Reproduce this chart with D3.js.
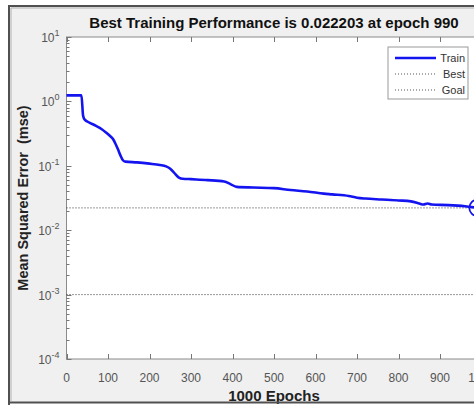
<!DOCTYPE html>
<html>
<head>
<meta charset="utf-8">
<script src="https://cdn.jsdelivr.net/npm/d3@7"></script>
<style>
  body { margin: 0; background: #fff; }
  text { font-family: "Liberation Sans", Arial, sans-serif; }
</style>
</head>
<body>
<div id="chart"></div>
<script>
// training curve
var epochs = [0, 36, 40, 44, 55, 70, 85, 95, 105, 112, 118, 124, 130, 136, 142, 170, 200, 225, 240, 250, 258, 265, 272, 280, 300, 340, 380, 395, 410, 450, 500, 540, 580, 620, 640, 680, 700, 720, 760, 800, 830, 850, 860, 870, 880, 920, 960, 990];
var trainMse = [1.24, 1.24, 0.6, 0.52, 0.47, 0.42, 0.37, 0.33, 0.29, 0.26, 0.22, 0.18, 0.145, 0.122, 0.116, 0.113, 0.108, 0.103, 0.098, 0.09, 0.08, 0.071, 0.065, 0.063, 0.062, 0.06, 0.057, 0.052, 0.047, 0.046, 0.045, 0.042, 0.04, 0.037, 0.036, 0.034, 0.032, 0.031, 0.03, 0.029, 0.028, 0.026, 0.025, 0.026, 0.025, 0.0245, 0.0235, 0.0222];
var bestEpoch = 990;
var bestPerf = 0.022203;
var goalPerf = 0.001;
var xTicks = [0, 100, 200, 300, 400, 500, 600, 700, 800, 900, 1000];
var yTicks = [1e-4, 1e-3, 1e-2, 1e-1, 1, 10];
var legendNames = ['Train', 'Best', 'Goal'];

var W = 474, H = 405;
var svg = d3.select('#chart').append('svg')
  .attr('width', W)
  .attr('height', H);

// figure background + frame
svg.append('rect').attr('x', 9).attr('y', 6).attr('width', W).attr('height', 396)
  .attr('fill', '#f0f0f0');
svg.append('path').attr('d', 'M9,' + H + ' V6 H' + W)
  .attr('fill', 'none').attr('stroke', '#505050').attr('stroke-width', 2);
svg.append('path').attr('d', 'M11,401 V8 H' + W)
  .attr('fill', 'none').attr('stroke', '#b0b0b0').attr('stroke-width', 1);

var x = d3.scaleLinear().domain([0, 1000]).range([66.5, 481.5]);
var y = d3.scaleLog().domain([1e-4, 10]).range([359, 37]);

// axes box
svg.append('rect')
  .attr('x', x(0)).attr('y', y(10))
  .attr('width', x(1000) - x(0)).attr('height', y(1e-4) - y(10))
  .attr('fill', '#fff').attr('stroke', '#8a8a8a').attr('stroke-width', 1);

// y ticks, major and minor
var yAll = y.ticks();
var g = svg.append('g');
yAll.forEach(function(v) {
  var major = Math.abs(Math.log10(v) - Math.round(Math.log10(v))) < 1e-9;
  var len = major ? 5 : 3;
  g.append('line')
    .attr('x1', x(0)).attr('x2', x(0) + len)
    .attr('y1', Math.round(y(v)) + 0.5).attr('y2', Math.round(y(v)) + 0.5)
    .attr('stroke', '#777');
  g.append('line')
    .attr('x1', x(1000)).attr('x2', x(1000) - len)
    .attr('y1', Math.round(y(v)) + 0.5).attr('y2', Math.round(y(v)) + 0.5)
    .attr('stroke', '#777');
});

// y tick labels with superscripts
yTicks.forEach(function(v) {
  var e = Math.round(Math.log10(v));
  var t = svg.append('text')
    .attr('x', x(0) - 7)
    .attr('y', y(v) + 5)
    .attr('text-anchor', 'end')
    .attr('fill', '#555')
    .attr('font-size', 12);
  t.append('tspan').text('10');
  t.append('tspan').attr('dy', -6).attr('font-size', 9).text(e);
});

// x ticks
xTicks.forEach(function(v) {
  g.append('line')
    .attr('x1', Math.round(x(v)) + 0.5).attr('x2', Math.round(x(v)) + 0.5)
    .attr('y1', y(1e-4)).attr('y2', y(1e-4) - 5)
    .attr('stroke', '#777');
  g.append('line')
    .attr('x1', Math.round(x(v)) + 0.5).attr('x2', Math.round(x(v)) + 0.5)
    .attr('y1', y(10)).attr('y2', y(10) + 5)
    .attr('stroke', '#777');
  svg.append('text')
    .attr('x', x(v))
    .attr('y', 382)
    .attr('text-anchor', 'middle')
    .attr('fill', '#555')
    .attr('font-size', 12)
    .text(v);
});

// best and goal lines
svg.append('line')
  .attr('x1', x(0)).attr('x2', x(1000))
  .attr('y1', y(bestPerf)).attr('y2', y(bestPerf))
  .attr('stroke', '#333').attr('stroke-dasharray', '1,2');
svg.append('line')
  .attr('x1', x(0)).attr('x2', x(1000))
  .attr('y1', y(goalPerf)).attr('y2', y(goalPerf))
  .attr('stroke', '#333').attr('stroke-dasharray', '1,2');

// train curve
var line = d3.line()
  .x(function(d, i) { return x(epochs[i]); })
  .y(function(d) { return y(d); })
  .curve(d3.curveMonotoneX);
svg.append('path')
  .datum(trainMse)
  .attr('d', line)
  .attr('fill', 'none')
  .attr('stroke', '#1414f0')
  .attr('stroke-width', 2.6)
  .attr('stroke-linejoin', 'round');

// best marker
svg.append('circle')
  .attr('cx', x(bestEpoch)).attr('cy', y(bestPerf)).attr('r', 8)
  .attr('fill', 'none').attr('stroke', '#1414f0').attr('stroke-width', 1.8);

// legend
var lg = svg.append('g').attr('transform', 'translate(388,47)');
lg.append('rect').attr('width', 80).attr('height', 52)
  .attr('fill', '#fff').attr('stroke', '#999');
legendNames.forEach(function(name, i) {
  var yy = 11 + i * 16;
  lg.append('line')
    .attr('x1', 7).attr('x2', 48).attr('y1', yy).attr('y2', yy)
    .attr('stroke', i === 0 ? '#1414f0' : '#555')
    .attr('stroke-width', i === 0 ? 2.6 : 1)
    .attr('stroke-dasharray', i === 0 ? null : '1,2');
  lg.append('text')
    .attr('x', 77).attr('y', yy + 4)
    .attr('text-anchor', 'end')
    .attr('font-size', 11)
    .attr('fill', '#333')
    .text(name);
});

// title and axis labels
svg.append('text')
  .attr('x', 274).attr('y', 28)
  .attr('text-anchor', 'middle')
  .attr('font-weight', 'bold')
  .attr('font-size', 15)
  .attr('fill', '#111')
  .text('Best Training Performance is 0.022203 at epoch 990');

svg.append('text')
  .attr('x', 274).attr('y', 401)
  .attr('text-anchor', 'middle')
  .attr('font-weight', 'bold')
  .attr('font-size', 15)
  .attr('fill', '#222')
  .text('1000 Epochs');

svg.append('text')
  .attr('transform', 'translate(28,' + ((y(10) + y(1e-4)) / 2) + ') rotate(-90)')
  .attr('text-anchor', 'middle')
  .attr('font-weight', 'bold')
  .attr('font-size', 14.5)
  .attr('fill', '#222')
  .style('white-space', 'pre')
  .text('Mean Squared Error  (mse)');

// bottom frame line drawn last so it clips the x label like the original
svg.append('line').attr('x1', 9).attr('x2', W).attr('y1', 402.5).attr('y2', 402.5)
  .attr('stroke', '#505050').attr('stroke-width', 2);
</script>
</body>
</html>
